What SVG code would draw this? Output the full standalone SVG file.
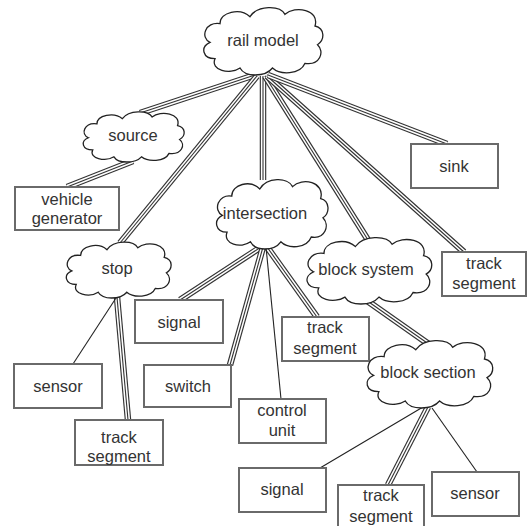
<svg xmlns="http://www.w3.org/2000/svg" xmlns:xlink="http://www.w3.org/1999/xlink" width="528" height="526" viewBox="0 0 528 526">
<style>
.box{fill:#fff;stroke:#6a6a6a;stroke-width:2}
.cloud{fill:#fff;stroke:#222;stroke-width:1.3}
text{font-family:"Liberation Sans",Arial,sans-serif;font-size:16.5px;fill:#333;text-anchor:middle}
.o{fill:none;stroke:#333;stroke-width:6.5}
.w{fill:none;stroke:#fff;stroke-width:4.2}
.c{fill:none;stroke:#333;stroke-width:1.1}
.s{fill:none;stroke:#222;stroke-width:1.1}
</style>
<defs>
<path id="cl" vector-effect="non-scaling-stroke" d="M8,32 C0,28 4,14 16,16 C16,6 32,2 40,10 C46,0 64,0 68,8 C76,0 96,4 92,18 C100,20 100,30 94,34 C100,40 96,52 84,50 C80,60 64,60 58,54 C52,62 36,62 32,54 C24,60 8,56 12,46 C2,46 0,36 8,32 Z"/>
<path id="e1" d="M255,75 L140,113"/>
<path id="e2" d="M257,76 L120,243"/>
<path id="e3" d="M263,76 L263,180"/>
<path id="e4" d="M265,76 L368,240"/>
<path id="e5" d="M267,76 L464,252"/>
<path id="e6" d="M268,75 L447,144"/>
<path id="e7" d="M133,161 L67,187"/>
<path id="e8" d="M117,297 L128,420"/>
<path id="e9" d="M261,247 L180,300"/>
<path id="e10" d="M263,247 L230,365"/>
<path id="e11" d="M267,247 L317,317"/>
<path id="e12" d="M366,300 L430,345"/>
<path id="e13" d="M428,407 L388,485"/>
</defs>
<g id="connectors">
<use href="#e1" class="o"/><use href="#e1" class="w"/><use href="#e1" class="c"/>
<use href="#e2" class="o"/><use href="#e2" class="w"/><use href="#e2" class="c"/>
<use href="#e3" class="o"/><use href="#e3" class="w"/><use href="#e3" class="c"/>
<use href="#e4" class="o"/><use href="#e4" class="w"/><use href="#e4" class="c"/>
<use href="#e5" class="o"/><use href="#e5" class="w"/><use href="#e5" class="c"/>
<use href="#e6" class="o"/><use href="#e6" class="w"/><use href="#e6" class="c"/>
<use href="#e7" class="o"/><use href="#e7" class="w"/><use href="#e7" class="c"/>
<use href="#e8" class="o"/><use href="#e8" class="w"/><use href="#e8" class="c"/>
<use href="#e9" class="o"/><use href="#e9" class="w"/><use href="#e9" class="c"/>
<use href="#e10" class="o"/><use href="#e10" class="w"/><use href="#e10" class="c"/>
<use href="#e11" class="o"/><use href="#e11" class="w"/><use href="#e11" class="c"/>
<use href="#e12" class="o"/><use href="#e12" class="w"/><use href="#e12" class="c"/>
<use href="#e13" class="o"/><use href="#e13" class="w"/><use href="#e13" class="c"/>
<line class="s" x1="116" y1="298" x2="73" y2="364"/>
<line class="s" x1="266" y1="247" x2="281" y2="399"/>
<line class="s" x1="423" y1="407" x2="320" y2="468"/>
<line class="s" x1="432" y1="408" x2="477" y2="472"/>
</g>
<g id="rail-model"><use href="#cl" class="cloud" transform="translate(200,5) scale(1.25,1.167)"/><text x="263" y="46">rail model</text></g>
<g id="source"><use href="#cl" class="cloud" transform="translate(80,110) scale(1.06,0.867)"/><text x="133" y="141">source</text></g>
<g id="vehicle-generator"><rect class="box" x="15" y="187" width="104" height="43"/><text x="67" y="205">vehicle</text><text x="67" y="224">generator</text></g>
<g id="sink"><rect class="box" x="411" y="144" width="87" height="44"/><text x="454" y="172">sink</text></g>
<g id="intersection"><use href="#cl" class="cloud" transform="translate(213,177) scale(1.17,1.2)"/><text x="265" y="219">intersection</text></g>
<g id="stop"><use href="#cl" class="cloud" transform="translate(63,240) scale(1.1,0.967)"/><text x="117" y="274">stop</text></g>
<g id="block-system"><use href="#cl" class="cloud" transform="translate(303,235) scale(1.31,1.15)"/><text x="366" y="275">block system</text></g>
<g id="track-segment-1"><rect class="box" x="442" y="252" width="84" height="44"/><text x="484" y="269">track</text><text x="484" y="289">segment</text></g>
<g id="signal-1"><rect class="box" x="135" y="300" width="88" height="43"/><text x="179" y="328">signal</text></g>
<g id="switch"><rect class="box" x="144" y="365" width="87" height="42"/><text x="188" y="392">switch</text></g>
<g id="track-segment-2"><rect class="box" x="282" y="317" width="87" height="44"/><text x="325" y="333">track</text><text x="325" y="354">segment</text></g>
<g id="control-unit"><rect class="box" x="239" y="399" width="87" height="44"/><text x="282" y="416">control</text><text x="282" y="436">unit</text></g>
<g id="block-section"><use href="#cl" class="cloud" transform="translate(363,338) scale(1.32,1.167)"/><text x="428" y="378">block section</text></g>
<g id="sensor-1"><rect class="box" x="14" y="364" width="88" height="44"/><text x="58" y="392">sensor</text></g>
<g id="track-segment-3"><rect class="box" x="75" y="420" width="88" height="45"/><text x="119" y="443">track</text><text x="119" y="462">segment</text></g>
<g id="signal-2"><rect class="box" x="239" y="468" width="87" height="44"/><text x="282" y="495">signal</text></g>
<g id="track-segment-4"><rect class="box" x="338" y="485" width="86" height="44"/><text x="381" y="501">track</text><text x="381" y="522">segment</text></g>
<g id="sensor-2"><rect class="box" x="432" y="472" width="87" height="44"/><text x="475" y="499">sensor</text></g>
</svg>
